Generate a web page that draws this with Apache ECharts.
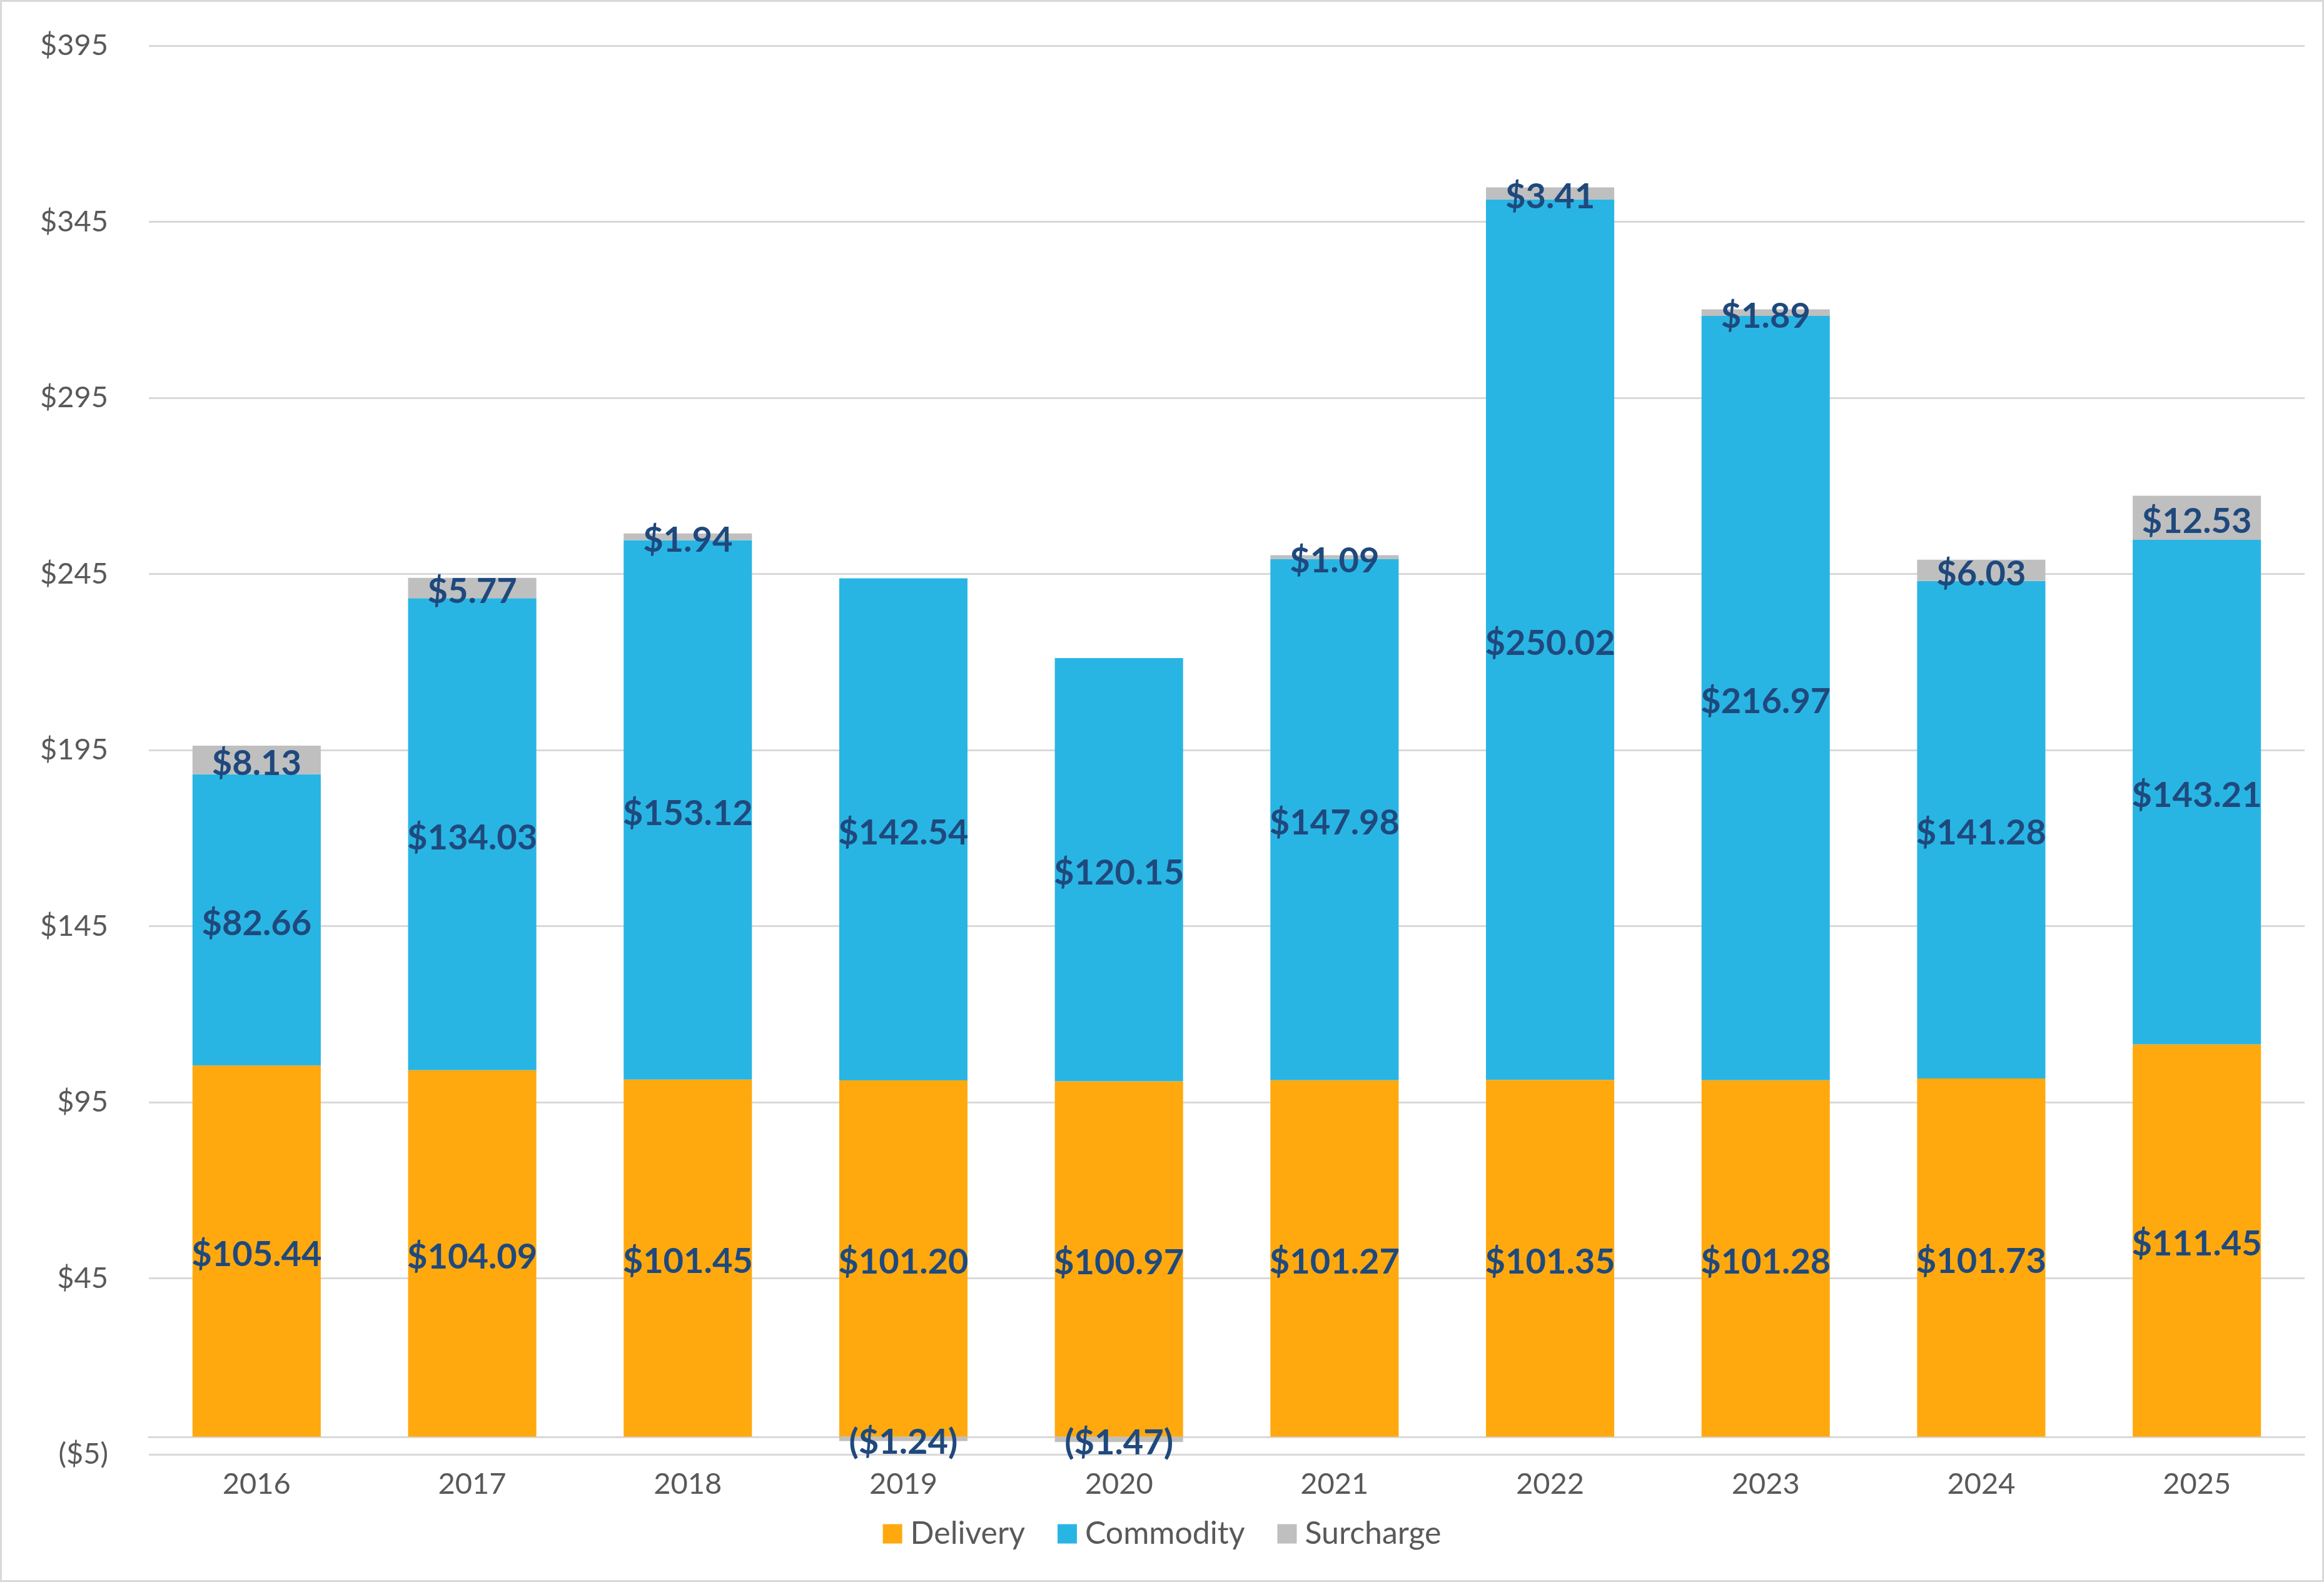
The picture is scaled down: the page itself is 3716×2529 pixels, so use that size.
<!DOCTYPE html>
<html>
<head>
<meta charset="utf-8">
<script src="https://cdn.jsdelivr.net/npm/echarts@6/dist/echarts.min.js"></script>
<style>
  html, body { margin: 0; padding: 0; background: #fff; }
  #chart { width: 3716px; height: 2529px; box-sizing: border-box; border: 3px solid #D9D9D9; }
</style>
</head>
<body>
<div id="chart"></div>
<script>
const years = ['2016','2017','2018','2019','2020','2021','2022','2023','2024','2025'];
const delivery  = [105.44, 104.09, 101.45, 101.20, 100.97, 101.27, 101.35, 101.28, 101.73, 111.45];
const commodity = [82.66, 134.03, 153.12, 142.54, 120.15, 147.98, 250.02, 216.97, 141.28, 143.21];
const surcharge = [8.13, 5.77, 1.94, -1.24, -1.47, 1.09, 3.41, 1.89, 6.03, 12.53];

const FONT = 'Lato, "Open Sans", sans-serif';
const money2 = v => v < 0 ? '($' + Math.abs(v).toFixed(2) + ')' : '$' + v.toFixed(2);
const money0 = v => v < 0 ? '($' + Math.abs(v) + ')' : '$' + v;

const labelStyle = {
  show: true,
  position: 'inside',
  offset: [0, 6],
  color: '#1F497D',
  fontFamily: FONT,
  fontWeight: 'bold',
  fontSize: 56,
  formatter: p => money2(p.value)
};

const chart = echarts.init(document.getElementById('chart'));
chart.setOption({
  animation: false,
  backgroundColor: '#fff',
  grid: { left: 235, right: 28, top: 70, bottom: 201, containLabel: false },
  legend: {
    data: ['Delivery', 'Commodity', 'Surcharge'],
    bottom: 44,
    left: 'center',
    itemWidth: 31,
    itemHeight: 31,
    itemGap: 52,
    icon: 'rect',
    textStyle: { color: '#595959', fontSize: 50, fontFamily: FONT, padding: [0, 0, 0, 8] }
  },
  xAxis: {
    type: 'category',
    data: years,
    axisLine: { show: true, onZero: true, lineStyle: { color: '#D9D9D9', width: 3 } },
    axisTick: { show: false },
    axisLabel: { color: '#595959', fontSize: 47, fontFamily: FONT, margin: 24 }
  },
  yAxis: {
    type: 'value',
    min: -5,
    max: 395,
    interval: 50,
    axisLine: { show: false },
    axisTick: { show: false },
    splitLine: { lineStyle: { color: '#D9D9D9', width: 3 } },
    axisLabel: { color: '#595959', fontSize: 47, fontFamily: FONT, margin: 65, formatter: money0 }
  },
  series: [
    { name: 'Delivery', type: 'bar', stack: 'total', data: delivery, barWidth: '59.5%',
      itemStyle: { color: '#FFA90F' }, label: labelStyle },
    { name: 'Commodity', type: 'bar', stack: 'total', data: commodity, barWidth: '59.5%',
      itemStyle: { color: '#29B5E3' }, label: labelStyle },
    { name: 'Surcharge', type: 'bar', stack: 'total', data: surcharge, barWidth: '59.5%',
      itemStyle: { color: '#BFBFBF' }, label: labelStyle }
  ]
});
</script>
</body>
</html>
